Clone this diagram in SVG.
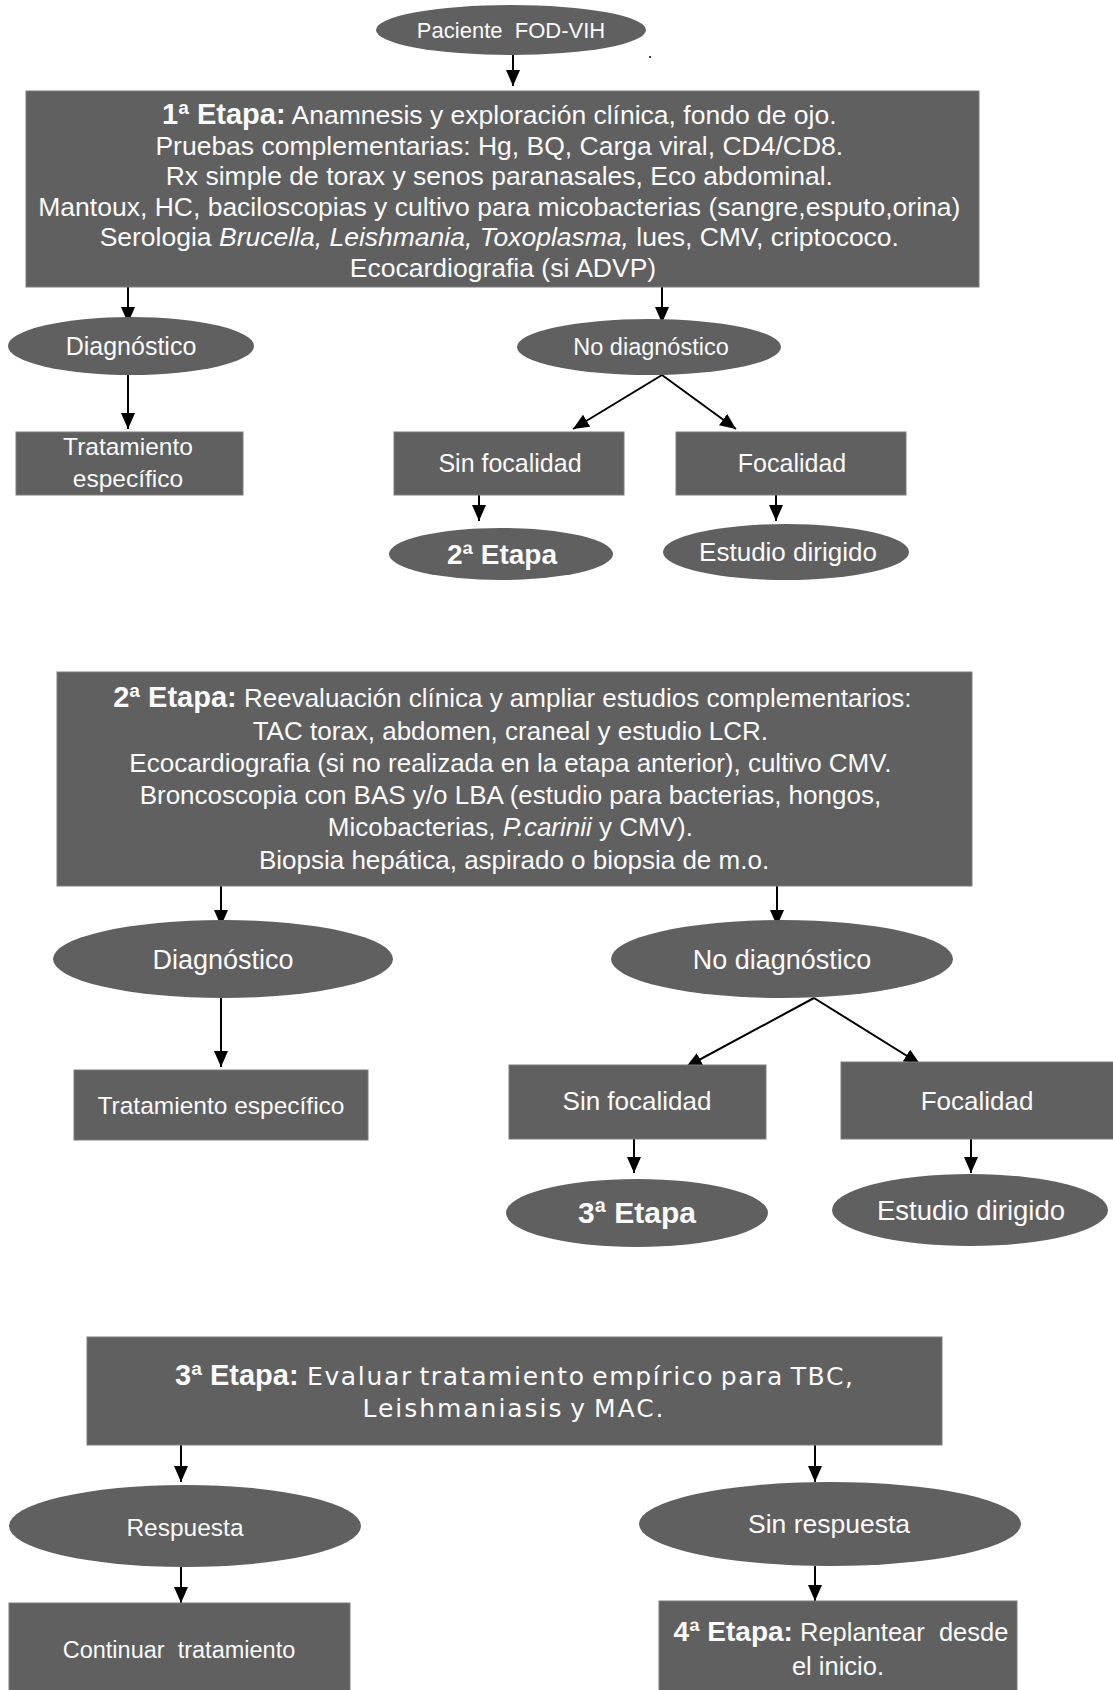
<svg xmlns="http://www.w3.org/2000/svg" width="1113" height="1690" viewBox="0 0 1113 1690">
<defs>
<style>
.n{fill:#606060;stroke:#7c7c7c;stroke-width:1}
.e{fill:#606060;stroke:none}
.t{font-family:"Liberation Sans",Arial,sans-serif;fill:#fafafa;text-anchor:middle}
.w{font-family:"DejaVu Sans","Liberation Sans",sans-serif;word-spacing:-3px}
.b{font-weight:bold}
.i{font-style:italic}
.c{stroke:#000;stroke-width:2;fill:none;marker-end:url(#ah)}
</style>
<marker id="ah" viewBox="0 0 16 14" markerWidth="16" markerHeight="14" refX="16" refY="7" orient="auto" markerUnits="userSpaceOnUse">
<path d="M0,0 L16,7 L0,14 z" fill="#000"/>
</marker>
</defs>
<rect width="1113" height="1690" fill="#fff"/>

<g id="connectors">
<line class="c" x1="513" y1="55" x2="513" y2="86"/>
<line class="c" x1="128" y1="287" x2="128" y2="323"/>
<line class="c" x1="662" y1="287" x2="662" y2="323"/>
<line class="c" x1="128" y1="375" x2="128" y2="429"/>
<line class="c" x1="662" y1="375" x2="573" y2="429"/>
<line class="c" x1="662" y1="375" x2="736" y2="429"/>
<line class="c" x1="479" y1="495" x2="479" y2="521"/>
<line class="c" x1="776" y1="495" x2="776" y2="521"/>
<line class="c" x1="221" y1="886" x2="221" y2="926"/>
<line class="c" x1="777" y1="886" x2="777" y2="926"/>
<line class="c" x1="221" y1="998" x2="221" y2="1067"/>
<line class="c" x1="814" y1="998" x2="686" y2="1067"/>
<line class="c" x1="814" y1="998" x2="920" y2="1064"/>
<line class="c" x1="634" y1="1139" x2="634" y2="1173"/>
<line class="c" x1="971" y1="1139" x2="971" y2="1173"/>
<line class="c" x1="181" y1="1445" x2="181" y2="1482"/>
<line class="c" x1="815" y1="1445" x2="815" y2="1482"/>
<line class="c" x1="181" y1="1567" x2="181" y2="1603"/>
<line class="c" x1="815" y1="1566" x2="815" y2="1601"/>
</g>

<circle cx="650" cy="57" r="1" fill="#000"/>

<g id="n-paciente">
<ellipse class="e" cx="511" cy="30" rx="135" ry="25"/>
<text class="t" x="511" y="38" font-size="22" xml:space="preserve">Paciente  FOD-VIH</text>
</g>

<g id="n-etapa1">
<rect class="n" x="26" y="91" width="953" height="196"/>
<text class="t" font-size="26.5">
<tspan x="503" y="124"><tspan class="b" font-size="29">1ª Etapa:</tspan> Anamnesis y exploración clínica, fondo de ojo.</tspan>
<tspan x="503" y="154.5">Pruebas complementarias: Hg, BQ, Carga viral, CD4/CD8.</tspan>
<tspan x="503" y="185">Rx simple de torax y senos paranasales, Eco abdominal.</tspan>
<tspan x="503" y="215.5">Mantoux, HC, baciloscopias y cultivo para micobacterias (sangre,esputo,orina)</tspan>
<tspan x="503" y="246">Serologia <tspan class="i">Brucella, Leishmania, Toxoplasma,</tspan> lues, CMV, criptococo.</tspan>
<tspan x="503" y="276.5">Ecocardiografia (si ADVP)</tspan>
</text>
</g>

<g id="n-diag1">
<ellipse class="e" cx="131" cy="346" rx="123" ry="29"/>
<text class="t" x="131" y="355" font-size="25">Diagnóstico</text>
</g>

<g id="n-nodiag1">
<ellipse class="e" cx="649" cy="347" rx="132" ry="28"/>
<text class="t" x="651" y="355" font-size="23.5">No diagnóstico</text>
</g>

<g id="n-trat1">
<rect class="n" x="16" y="432" width="227" height="63"/>
<text class="t" font-size="24.5"><tspan x="128" y="455">Tratamiento</tspan><tspan x="128" y="487">específico</tspan></text>
</g>

<g id="n-sinfoc1">
<rect class="n" x="394" y="432" width="230" height="63"/>
<text class="t" x="510" y="472" font-size="25">Sin focalidad</text>
</g>

<g id="n-foc1">
<rect class="n" x="676" y="432" width="230" height="63"/>
<text class="t" x="792" y="472" font-size="25">Focalidad</text>
</g>

<g id="n-etapa2-ref">
<ellipse class="e" cx="501" cy="554" rx="112" ry="26"/>
<text class="t b" x="502" y="564" font-size="28">2ª Etapa</text>
</g>

<g id="n-estudio1">
<ellipse class="e" cx="786" cy="552" rx="123" ry="28"/>
<text class="t" x="788" y="561" font-size="26">Estudio dirigido</text>
</g>

<g id="n-etapa2">
<rect class="n" x="57" y="672" width="915" height="214"/>
<text class="t" font-size="26">
<tspan x="516" y="707"><tspan class="b" font-size="29">2ª Etapa:</tspan> Reevaluación clínica y ampliar estudios complementarios:</tspan>
<tspan x="514" y="740">TAC torax, abdomen, craneal y estudio LCR.</tspan>
<tspan x="514" y="772">Ecocardiografia (si no realizada en la etapa anterior), cultivo CMV.</tspan>
<tspan x="514" y="804">Broncoscopia con BAS y/o LBA (estudio para bacterias, hongos,</tspan>
<tspan x="514" y="836">Micobacterias, <tspan class="i">P.carinii</tspan> y CMV).</tspan>
<tspan x="514" y="869">Biopsia hepática, aspirado o biopsia de m.o.</tspan>
</text>
</g>

<g id="n-diag2">
<ellipse class="e" cx="223" cy="959" rx="170" ry="39"/>
<text class="t" x="223" y="969" font-size="27">Diagnóstico</text>
</g>

<g id="n-nodiag2">
<ellipse class="e" cx="782" cy="959" rx="171" ry="39"/>
<text class="t" x="782" y="969" font-size="27">No diagnóstico</text>
</g>

<g id="n-trat2">
<rect class="n" x="74" y="1070" width="294" height="70"/>
<text class="t" x="221" y="1114" font-size="24.5">Tratamiento específico</text>
</g>

<g id="n-sinfoc2">
<rect class="n" x="509" y="1065" width="257" height="74"/>
<text class="t" x="637" y="1110" font-size="26">Sin focalidad</text>
</g>

<g id="n-foc2">
<rect class="n" x="841" y="1062" width="273" height="77"/>
<text class="t" x="977" y="1110" font-size="26">Focalidad</text>
</g>

<g id="n-etapa3-ref">
<ellipse class="e" cx="637" cy="1213" rx="131" ry="34"/>
<text class="t b" x="637" y="1223" font-size="30">3ª Etapa</text>
</g>

<g id="n-estudio2">
<ellipse class="e" cx="970" cy="1210" rx="138" ry="36"/>
<text class="t" x="971" y="1220" font-size="27.5">Estudio dirigido</text>
</g>

<g id="n-etapa3">
<rect class="n" x="87" y="1337" width="855" height="108"/>
<text class="t b" x="175" y="1385" font-size="29" style="text-anchor:start">3ª Etapa:</text>
<text class="t w" x="307" y="1385" font-size="25" style="text-anchor:start" textLength="546" lengthAdjust="spacing">Evaluar tratamiento empírico para TBC,</text>
<text class="t w" x="513" y="1417" font-size="25" textLength="301" lengthAdjust="spacing">Leishmaniasis y MAC.</text>
</g>

<g id="n-resp">
<ellipse class="e" cx="185" cy="1526" rx="176" ry="41"/>
<text class="t" x="185" y="1536" font-size="24.5">Respuesta</text>
</g>

<g id="n-sinresp">
<ellipse class="e" cx="830" cy="1524" rx="191" ry="42"/>
<text class="t" x="829" y="1533" font-size="26.5">Sin respuesta</text>
</g>

<g id="n-continuar">
<rect class="n" x="9" y="1603" width="341" height="90"/>
<text class="t" x="179" y="1658" font-size="23.5" xml:space="preserve">Continuar  tratamiento</text>
</g>

<g id="n-etapa4">
<rect class="n" x="659" y="1601" width="358" height="92"/>
<text class="t" font-size="25.5" xml:space="preserve"><tspan x="841" y="1641"><tspan class="b" font-size="28">4ª Etapa:</tspan> Replantear  desde</tspan><tspan x="838" y="1675">el inicio.</tspan></text>
</g>
</svg>
